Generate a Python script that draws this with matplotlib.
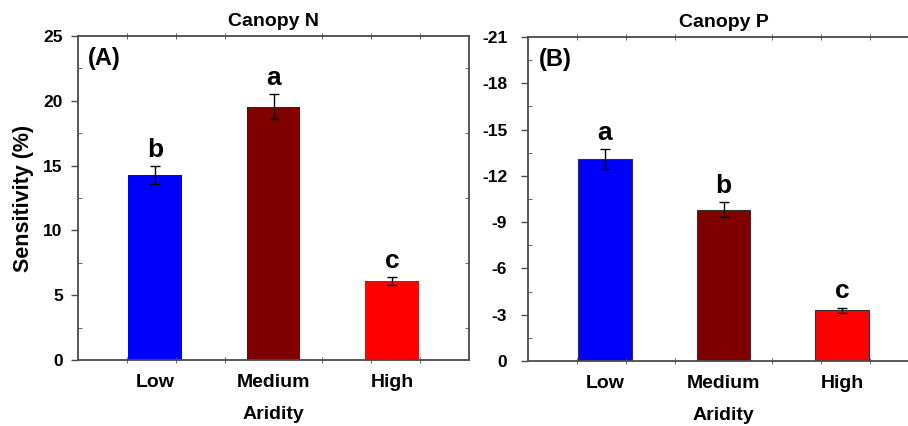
import numpy as np
import matplotlib
matplotlib.use('Agg')
from matplotlib import pyplot as plt

plt.rcParams['font.family'] = ['Liberation Sans', 'DejaVu Sans']
plt.rcParams['font.weight'] = 'bold'
plt.rcParams['axes.unicode_minus'] = False

# Datos
categorias = ['Low', 'Medium', 'High']
colores = ['#0000ff', '#800000', '#ff0000']

canopy_n = [14.27, 19.55, 6.1]
canopy_n_err = [0.7, 0.95, 0.3]
letras_n = ['b', 'a', 'c']

canopy_p = [-13.08, -9.8, -3.28]
canopy_p_err = [0.66, 0.48, 0.18]
letras_p = ['a', 'b', 'c']

fig = plt.figure(figsize=(9.08, 4.26), dpi=100)
ax1 = fig.add_axes([78 / 908, 66 / 426, 391 / 908, 324 / 426])
ax2 = fig.add_axes([528 / 908, 65 / 426, 391 / 908, 324 / 426])

x = np.arange(1, len(categorias) + 1)
spine_color = '#4a4a4a'


def estilo_ejes(ax, ypad):
    for spine in ax.spines.values():
        spine.set_color(spine_color)
        spine.set_linewidth(1.3)
    ax.set_xlim(0.35, 3.65)
    ax.set_xticks(x)
    ax.set_xticklabels(categorias, fontsize=14, fontweight='bold')
    ax.set_xticks(np.linspace(0.35, 3.65, 9)[1:-1], minor=True)
    ax.tick_params(axis='x', which='major', length=0, pad=10)
    ax.tick_params(axis='x', which='minor', direction='inout', length=4,
                   top=True, color=spine_color)
    ax.tick_params(axis='y', which='major', direction='out', length=5,
                   width=1, color=spine_color, labelsize=12.5, pad=ypad)
    ax.tick_params(axis='y', which='minor', direction='in', length=3,
                   right=True, color=spine_color)
    ax.set_xlabel('Aridity', fontsize=14, fontweight='bold', labelpad=11)


# Panel A
ax1.bar(x, canopy_n, width=0.45, color=colores, edgecolor='none')
ax1.errorbar(x, canopy_n, yerr=canopy_n_err, fmt='none', ecolor='black',
             elinewidth=1, capsize=3.5, capthick=1)
for xi, v, e, t in zip(x, canopy_n, canopy_n_err, letras_n):
    ax1.annotate(t, (xi, v + e), xytext=(0, 3), textcoords='offset points',
                 ha='center', va='bottom', fontsize=19, fontweight='bold')
ax1.set_ylim(0, 25)
ax1.set_yticks(np.arange(0, 26, 5))
ax1.set_yticks(np.arange(0, 25.1, 2.5), minor=True)
estilo_ejes(ax1, 6)
ax1.set_ylabel('Sensitivity (%)', fontsize=15.5, fontweight='bold', labelpad=7)
ax1.set_title('Canopy N', fontsize=14, fontweight='bold', pad=7)
ax1.text(0.026, 0.93, '(A)', transform=ax1.transAxes, fontsize=17,
         fontweight='bold', va='center', ha='left')

# Panel B
ax2.bar(x, canopy_p, width=0.45, color=colores, edgecolor='#333333', linewidth=0.8)
ax2.errorbar(x, canopy_p, yerr=canopy_p_err, fmt='none', ecolor='black',
             elinewidth=1, capsize=3.5, capthick=1)
for xi, v, e, t in zip(x, canopy_p, canopy_p_err, letras_p):
    ax2.annotate(t, (xi, v - e), xytext=(0, 3), textcoords='offset points',
                 ha='center', va='bottom', fontsize=19, fontweight='bold')
ax2.set_ylim(0, -21)
ax2.set_yticks(np.arange(0, -22, -3))
ax2.set_yticks(np.arange(0, -21.1, -1.5), minor=True)
estilo_ejes(ax2, 10)
ax2.set_title('Canopy P', fontsize=14, fontweight='bold', pad=7)
ax2.text(0.028, 0.93, '(B)', transform=ax2.transAxes, fontsize=17,
         fontweight='bold', va='center', ha='left')

fig.savefig('out.png', dpi=100)
plt.close(fig)
